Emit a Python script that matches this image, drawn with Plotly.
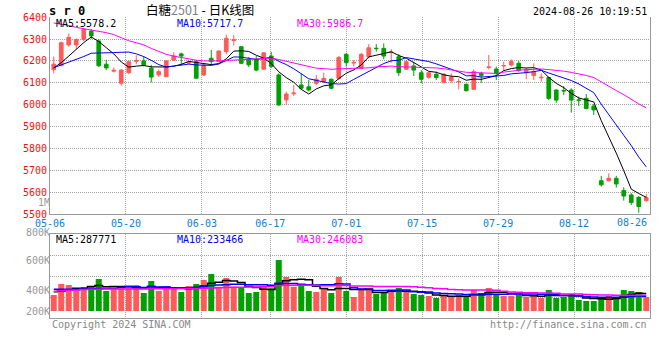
import numpy as np
import plotly.graph_objects as go

W, H = 660, 360
def px(x): return x / W
def py(y): return 1 - y / H

# ---------------- data ----------------
opens = [6160, 6178, 6273, 6273, 6298, 6336, 6291, 6185, 6153, 6098,
         6146, 6198, 6200, 6167, 6136, 6128, 6204, 6232, 6190, 6196,
         6136, 6212, 6197, 6242, 6293, 6265, 6208, 6207, 6162, 6222,
         6136, 6022, 6050, 6090, 6082, 6098, 6105, 6116, 6120, 6230,
         6190, 6166, 6219, 6258, 6257, 6238, 6219, 6162, 6177, 6146,
         6125, 6139, 6101, 6110, 6104, 6093, 6070, 6143, 6170, 6163,
         6177, 6181, 6189, 6146, 6133, 6123, 6124, 6067, 6065, 6067,
         6022, 6029, 5994, 5653, 5653, 5664, 5608, 5588, 5577, 5562]
highs = [6220, 6288, 6325, 6302, 6348, 6345, 6300, 6205, 6170, 6163,
         6200, 6226, 6220, 6182, 6160, 6203, 6240, 6238, 6198, 6205,
         6190, 6250, 6248, 6320, 6318, 6266, 6218, 6222, 6240, 6241,
         6143, 6060, 6090, 6143, 6113, 6136, 6146, 6120, 6222, 6237,
         6204, 6236, 6277, 6277, 6280, 6253, 6230, 6204, 6196, 6158,
         6150, 6151, 6145, 6143, 6120, 6098, 6161, 6151, 6227, 6174,
         6197, 6207, 6199, 6169, 6189, 6143, 6128, 6070, 6085, 6075,
         6037, 6049, 6003, 5675, 5687, 5675, 5623, 5596, 5583, 5592]
lows = [6143, 6176, 6265, 6253, 6290, 6300, 6172, 6158, 6147, 6087,
        6140, 6185, 6175, 6102, 6127, 6126, 6200, 6180, 6185, 6118,
        6131, 6182, 6193, 6230, 6270, 6185, 6172, 6152, 6160, 6168,
        5995, 5999, 6040, 6067, 6060, 6090, 6098, 6070, 6113, 6174,
        6174, 6162, 6212, 6242, 6207, 6192, 6131, 6158, 6131, 6098,
        6118, 6113, 6098, 6100, 6070, 6060, 6067, 6100, 6161, 6113,
        6155, 6174, 6150, 6116, 6113, 6105, 6021, 6009, 6044, 5964,
        5994, 5979, 5953, 5626, 5649, 5621, 5562, 5542, 5507, 5557]
closes = [6185, 6283, 6308, 6298, 6344, 6314, 6178, 6168, 6157, 6158,
          6196, 6202, 6182, 6126, 6151, 6200, 6222, 6222, 6194, 6121,
          6181, 6197, 6245, 6303, 6297, 6189, 6182, 6158, 6237, 6175,
          5999, 6049, 6053, 6075, 6067, 6116, 6120, 6075, 6216, 6192,
          6193, 6230, 6260, 6256, 6222, 6240, 6146, 6196, 6158, 6116,
          6146, 6124, 6139, 6125, 6106, 6064, 6151, 6133, 6172, 6143,
          6179, 6197, 6158, 6161, 6151, 6125, 6029, 6021, 6063, 6021,
          6020, 5983, 5976, 5634, 5664, 5638, 5583, 5553, 5535, 5576]
volumes_k = [259, 437, 421, 340, 389, 389, 518, 324, 367, 389,
             389, 421, 292, 486, 324, 394, 367, 308, 405, 437,
             502, 599, 394, 535, 394, 378, 292, 308, 394, 367,
             826, 551, 394, 437, 324, 308, 356, 292, 551, 324,
             227, 340, 340, 275, 308, 340, 373, 308, 275, 259,
             243, 211, 259, 227, 259, 243, 340, 292, 373, 275,
             243, 243, 259, 227, 259, 211, 340, 211, 227, 275,
             178, 162, 162, 211, 243, 227, 340, 324, 308, 227]

# moving-average values at the left edge (they depend on days before the window)
ma5_head = [6168, 6192, 6222, 6255]
ma10_head = [6169, 6181, 6193, 6205, 6220, 6235, 6237, 6238, 6238]
ma30_head = [6373, 6368, 6362, 6353, 6347, 6343, 6336, 6329, 6320, 6306,
             6292, 6283, 6273, 6257, 6242, 6230, 6222, 6215, 6209, 6203,
             6200, 6199, 6200, 6202, 6204, 6205, 6206, 6207, 6209]
vma5_head = [313, 319, 340, 367]
vma10_head = [351, 351, 352, 354, 357, 360, 364, 366, 368]
vma30_head = [319, 328, 336, 342, 347, 351, 354, 356, 357, 357,
              357, 357, 358, 360, 361, 362, 362, 363, 364, 366,
              370, 374, 378, 381, 384, 386, 388, 389, 391]

ma_label_values = [5578.2, 5717.7, 5986.7]
vol_ma_label_values = [287771, 233466, 246083]

tick_labels = ["05-06", "05-20", "06-03", "06-17", "07-01", "07-15", "07-29", "08-12", "08-26"]
tick_days = [0, 10, 20, 29, 39, 49, 59, 69, 79]
price_ticks = [5500, 5600, 5700, 5800, 5900, 6000, 6100, 6200, 6300, 6400]
vol_tick_labels = ["1M", "800K", "600K", "400K", "200K"]

symbol_text = "s r 0"
title_name = "白糖"
title_code = "2501"
title_rest = " - 日K线图"
stamp = "2024-08-26 10:19:51"
copyright_text = "Copyright 2024 SINA.COM"
url_text = "http://finance.sina.com.cn"

# ---------------- derived ----------------
n = len(closes)
xs = list(range(n))

def moving(vals, k, head):
    return list(head) + [float(np.mean(vals[i - k + 1:i + 1])) for i in range(k - 1, len(vals))]

ma5 = moving(closes, 5, ma5_head)
ma10 = moving(closes, 10, ma10_head)
ma30 = moving(closes, 30, ma30_head)
vma5 = moving(volumes_k, 5, vma5_head)
vma10 = moving(volumes_k, 10, vma10_head)
vma30 = moving(volumes_k, 30, vma30_head)

RED = "#ff5a5a"
GREEN = "#00a000"
GRID = "#a0a0a0"
FRAME = "#999999"
MONO = "DejaVu Sans Mono"
MA_COLORS = ["#000000", "#0000ff", "#ff00ff"]

# date gridlines spread across the full width (first day at left edge, last at right edge)
grid_x = [d * n / (n - 1) - 0.5 for d in tick_days]
grid_text = tick_labels[:-1] + [""]

# geometry (pixels)
PLOT_L, PLOT_R = 50, 650
PRICE_TOP, PRICE_BOT = 17.1, 214.2
VOL_TOP, VOL_BOT, VOL_BASE = 234.3, 318.3, 311.0
K_PER_PX = 16.2
vol_lo = -(VOL_BOT - VOL_BASE) * K_PER_PX
vol_hi = (VOL_BASE - VOL_TOP) * K_PER_PX
vol_grid = [vol_lo + (vol_hi - vol_lo) * f for f in (0.25, 0.5, 0.75)]
vol_label_px = [202.5, 232.5, 260, 290.7, 311]

fig = go.Figure()

fig.add_trace(go.Candlestick(
    x=xs, open=opens, high=highs, low=lows, close=closes,
    increasing=dict(line=dict(color=RED, width=1), fillcolor=RED),
    decreasing=dict(line=dict(color=GREEN, width=1), fillcolor=GREEN),
    whiskerwidth=0, hoverinfo="skip", showlegend=False,
    xaxis="x", yaxis="y"))

for vals, col in zip([ma5, ma10, ma30], MA_COLORS):
    fig.add_trace(go.Scatter(x=xs, y=vals, mode="lines",
                             line=dict(color=col, width=1),
                             hoverinfo="skip", showlegend=False,
                             xaxis="x", yaxis="y"))

bar_colors = [RED if c > o else GREEN for o, c in zip(opens, closes)]
fig.add_trace(go.Bar(x=xs, y=volumes_k, marker=dict(color=bar_colors, line=dict(width=0)),
                     hoverinfo="skip", showlegend=False, xaxis="x2", yaxis="y2"))

for vals, col in zip([vma5, vma10, vma30], MA_COLORS):
    fig.add_trace(go.Scatter(x=xs, y=vals, mode="lines",
                             line=dict(color=col, width=1.5, shape="hvh"),
                             hoverinfo="skip", showlegend=False,
                             xaxis="x2", yaxis="y2"))

# invisible trace carrying the volume-label ruler axis
fig.add_trace(go.Scatter(x=[0.5], y=[-100], mode="markers", marker=dict(opacity=0),
                         hoverinfo="skip", showlegend=False, xaxis="x3", yaxis="y3"))

axis_common = dict(showline=True, linecolor=FRAME, linewidth=1, ticks="",
                   zeroline=False, fixedrange=True, automargin=False)

fig.update_layout(
    template="none",
    width=W, height=H, autosize=False,
    margin=dict(l=0, r=0, t=0, b=0, pad=0),
    paper_bgcolor="white", plot_bgcolor="rgba(0,0,0,0)",
    showlegend=False, bargap=0.2, boxgap=0.3,
    xaxis=dict(domain=[px(PLOT_L), px(PLOT_R)], range=[-0.5, n - 0.5],
               tickmode="array", tickvals=grid_x, ticktext=grid_text,
               showgrid=True, gridcolor=GRID, griddash="1px,1px", gridwidth=1,
               tickfont=dict(family=MONO, size=10, color="#1080d0"),
               rangeslider=dict(visible=False), anchor="y", mirror=False,
               **axis_common),
    yaxis=dict(domain=[py(PRICE_BOT), py(PRICE_TOP)], range=[5500, 6400],
               tickmode="array", tickvals=price_ticks,
               showgrid=True, gridcolor=GRID, griddash="1px,1px", gridwidth=1,
               tickfont=dict(family=MONO, size=10, color="#ee1111"),
               anchor="x", mirror=True, **axis_common),
    xaxis2=dict(domain=[px(PLOT_L), px(PLOT_R)], range=[-0.5, n - 0.5],
                tickmode="array", tickvals=grid_x, showticklabels=False,
                showgrid=True, gridcolor=GRID, griddash="1px,1px", gridwidth=1,
                anchor="y2", mirror=True, **axis_common),
    yaxis2=dict(domain=[py(VOL_BOT), py(VOL_TOP)], range=[vol_lo, vol_hi],
                tickmode="array", tickvals=vol_grid, showticklabels=False,
                showgrid=True, gridcolor=GRID, griddash="1px,1px", gridwidth=1,
                anchor="x2", mirror=True, **axis_common),
    xaxis3=dict(domain=[0, 0.001], range=[0, 1], visible=False,
                anchor="y3", fixedrange=True, automargin=False),
    yaxis3=dict(domain=[0, 1], range=[H, 0], anchor="free", position=px(PLOT_L),
                side="left", tickmode="array", tickvals=vol_label_px,
                ticktext=vol_tick_labels,
                showgrid=False, zeroline=False, showline=False, ticks="",
                tickfont=dict(family=MONO, size=10, color="#999999"),
                fixedrange=True, automargin=False),
)

ann = []
def text(x, y, s, anchor="left", color="black", size=10, family=MONO, xref="paper"):
    ann.append(dict(x=x, y=py(y), xref=xref, yref="paper", text=s, showarrow=False,
                    xanchor=anchor, yanchor="middle",
                    font=dict(family=family, size=size, color=color)))

text(px(47), 11, "<b>" + symbol_text + "</b>", size=12)
text(px(200), 9.5, title_name + "<span style='color:#808080'>" + title_code + "</span>" + title_rest,
     anchor="center", size=12.5, family="Noto Sans CJK SC")
text(px(649), 12, stamp, anchor="right")

ma_names = ["MA5", "MA10", "MA30"]
ma_x = [54, 175, 295]
for name, v, col, xx in zip(ma_names, ma_label_values, MA_COLORS, ma_x):
    text(px(xx), 24, f"{name}:{v:.1f}", color=col)
for name, v, col, xx in zip(ma_names, vol_ma_label_values, MA_COLORS, ma_x):
    text(px(xx), 239.5, f"{name}:{v}", color=col)

# last date label sits inside the right edge
ann.append(dict(x=n - 0.5, y=py(222), xref="x", yref="paper", text=tick_labels[-1],
                showarrow=False, xanchor="right", yanchor="middle", xshift=-1,
                font=dict(family=MONO, size=10, color="#1080d0")))

text(px(50), 324, copyright_text, color="#888888")
text(px(649), 324, url_text, anchor="right", color="#888888")

fig.update_layout(annotations=ann)

fig.write_html("out.html", config={"displayModeBar": False},
               post_script="document.body.style.margin='0';")
